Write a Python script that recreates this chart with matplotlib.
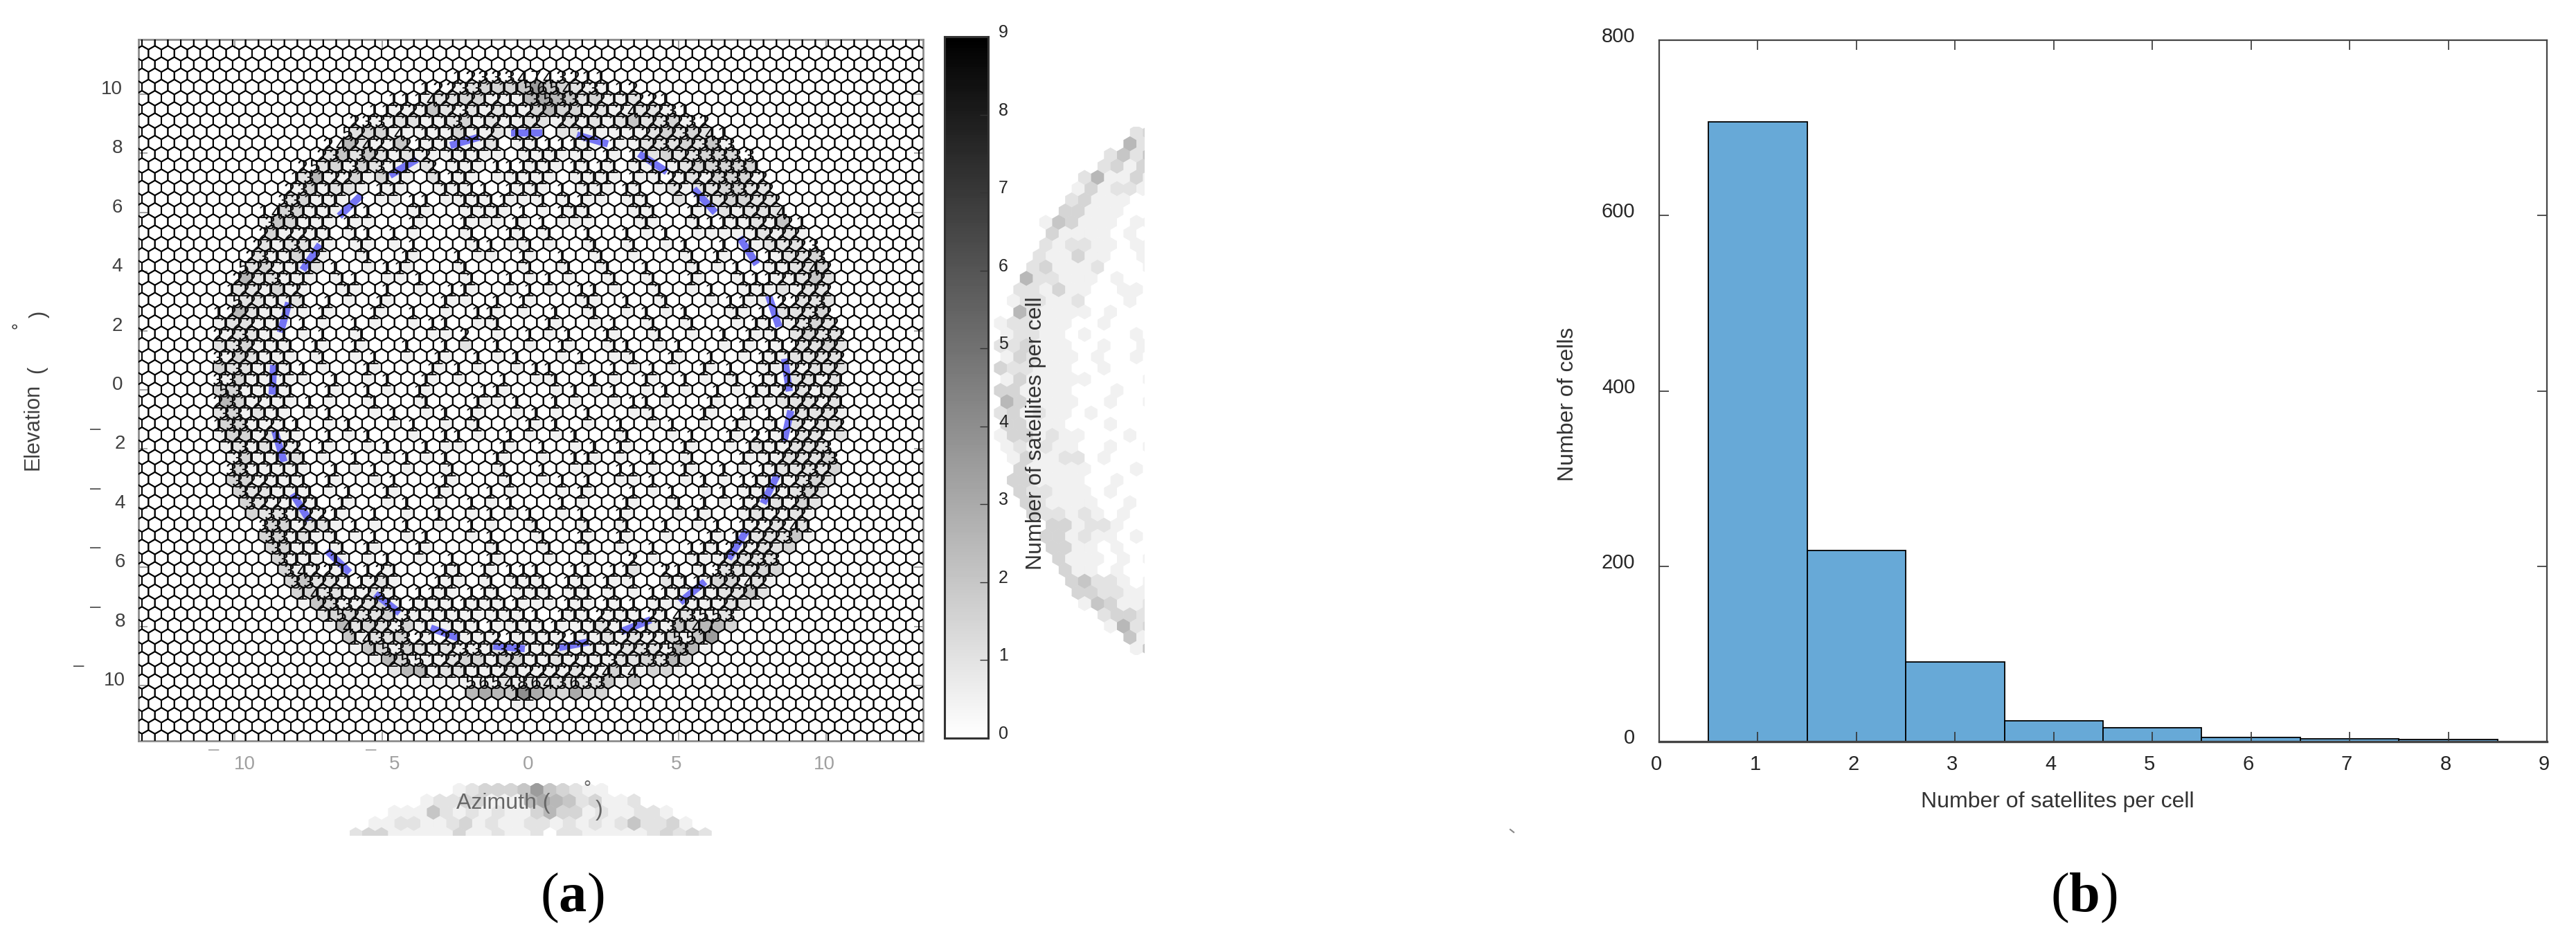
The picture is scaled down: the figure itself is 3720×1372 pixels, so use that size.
import numpy as np
import matplotlib
matplotlib.use("Agg")
from matplotlib import pyplot as plt
from matplotlib.collections import PolyCollection, LineCollection
from matplotlib.lines import Line2D
from matplotlib.transforms import ScaledTranslation

plt.rcParams['font.family'] = ['Liberation Sans', 'DejaVu Sans']
plt.rcParams['mathtext.fontset'] = 'custom'
plt.rcParams['mathtext.bf'] = 'Liberation Serif:bold'
plt.rcParams['mathtext.rm'] = 'Liberation Serif'

W, H = 3720, 1372

# satellites per cell, one string per hex row, top row first
row_level = list(range(27, -29, -1))
row_first = [-6, -8, -11, -12, -14, -14, -16, -16, -18, -18, -19, -19, -21, -20,
             -21, -21, -22, -22, -23, -23, -23, -24, -24, -24, -24, -24, -24, -24,
             -24, -24, -24, -24, -24, -23, -23, -23, -23, -22, -22, -20, -21, -20,
             -20, -19, -19, -18, -18, -16, -16, -14, -14, -12, -11, -8, -5, -1]
row_counts = [
    "123334743211",
    "12233111565423112",
    "1114212121135331211221",
    "1122112312112212121242231",
    "2331111131121120221111123232",
    "521140111112011000110112223241",
    "24242121111111011111101012322333",
    "2313211120111000111010101101233333",
    "251131311020110111110111101101213331",
    "1312210110011100011100111010121223322",
    "23111001100011110111010110110020123322",
    "331110000011001111001011000110001121222",
    "14311101100010001110100111000110010011214",
    "311110100001000100010100000001000111112121",
    "212211011010000010011010010010010000001222",
    "211311" "00100010000110010000100100010010" "101223",
    "231112" "000100100010000100100100000010100" "011223",
    "522111" "0100011000010000100100100100010010" "011242",
    "221311" "0011000010001001001000010010010001" "112122",
    "122112" "00010010000110000100011000010001001" "100222",
    "521111" "0100010000100010100001001001000011" "002223",
    "122111" "001000100100001100001001000100100010" "101232",
    "122110" "100010000011000100010000100100100001" "102322",
    "223111" "0010010000000200001001001000100001010" "102232",
    "132111" "010010001001000100001000110001000010" "112222",
    "322111" "0010001000010010010000100010010010001" "111222",
    "131111" "100001000010100000110000100100010100" "102212",
    "331111" "0001000100100000100010010001001000101" "112121",
    "531111" "001001000100001100000100100010001001" "122212",
    "231211" "0100001000100010010010000011000010010" "012221",
    "331110" "001000010001010000100010000100010010" "102122",
    "133121" "1000100001000010001010000100010000100" "102212",
    "121211" "00100100000110001000010001000010010" "211222",
    "131122" "01000010010000010010001010000100001" "112223",
    "311111" "00010001001000100000110000100100010" "122223",
    "331111" "00100100000100010010000011000100100" "111232",
    "322111" "0100001000100001000101000010001001" "111232",
    "321111" "001001000100010000001000100100010" "112132",
    "322121" "01000010000100100010000100010100" "121121",
    "331221" "001000010001001000100100000100" "011212",
    "331211" "0100010000100001000100100100010" "122241",
    "331101" "00100010000100010010010000001" "011223",
    "311101" "010001000001000100100001001" "112222",
    "311010" "001000010010000000000200001" "022233",
    "34221012100011010111001101100210133121",
    "3322112100011001011101101010011112242",
    "143112310111011101110110100111111221",
    "233223111111111100011011101021121",
    "15232131111101111011121112143553",
    "41223010111101111011212113147",
    "1431321211121111211112221551",
    "1531112331331121111223253",
    "25512211121111211311331",
    "11111121222222414",
    "56548643633",
    "11",
]

# blue ring dashes, start and end of each dash (degrees)
dash_az0 = [-2.71, -0.66, -4.75, -6.46, -7.70, -8.45, -8.68, -8.64, -8.03, -6.88, -5.24, -3.37, -1.26,
            0.96, 3.07, 5.06, 6.69, 7.86, 8.57, 8.75, 8.40, 7.65, 6.25, 4.61, 2.62]
dash_el0 = [8.26, 8.68, 7.25, 5.87, 4.05, 1.94, 0.84, -1.38, -3.51, -5.43, -6.90, -8.05, -8.66,
            -8.71, -8.17, -7.18, -5.71, -3.84, -1.73, -0.05, 2.13, 4.24, 5.99, 7.37, 8.31]
dash_az1 = [-1.73, 0.40, -3.84, -5.71, -7.11, -8.17, -8.73, -8.33, -7.47, -6.11, -4.42, -2.41, -0.19,
            1.97, 4.07, 5.90, 7.30, 8.35, 8.80, 8.59, 8.05, 7.07, 5.52, 3.67, 1.57]
dash_el1 = [8.54, 8.68, 7.79, 6.58, 4.91, 2.95, -0.16, -2.43, -4.42, -6.18, -7.54, -8.40, -8.75,
            -8.52, -7.77, -6.48, -4.77, -2.86, -0.70, 1.05, 3.18, 5.15, 6.79, 7.98, 8.61]

# histogram
hist_bins = [1, 2, 3, 4, 5, 6, 7, 8]
hist_cells = [707, 218, 91, 24, 16, 5, 3, 2]

az_ticks = [-10, -5, 0, 5, 10]
el_ticks = [-10, -8, -6, -4, -2, 0, 2, 4, 6, 8, 10]
cbar_ticks = list(range(0, 10))
hist_xticks = list(range(0, 10))
hist_yticks = [0, 200, 400, 600, 800]

px_deg = 42.73
pitch = 18.7 / px_deg
row_h = 16.2 / px_deg
x0_px, y0_px = 766.0, 563.0


def add_axes_px(left, top, right, bottom):
    return plt.gcf().add_axes([left / W, 1 - bottom / H, (right - left) / W, (bottom - top) / H])


def txt(x, y, s, **kw):
    kw.setdefault('ha', 'center')
    kw.setdefault('va', 'center')
    return plt.gcf().text(x / W, 1 - y / H, s, **kw)


def hexagon(cx, cy):
    ang = np.radians(np.arange(30, 390, 60))
    r = pitch / np.sqrt(3)
    return np.column_stack([cx + r * np.cos(ang), cy + r * np.sin(ang)])


def cell_x(col, level):
    return (col + 0.5 * (abs(level) % 2)) * pitch


def deg_lims(left, top, right, bottom):
    return ((left - x0_px) / px_deg, (right - x0_px) / px_deg,
            (y0_px - bottom) / px_deg, (y0_px - top) / px_deg)


fig = plt.figure(figsize=(W / 100, H / 100), dpi=100, facecolor='white')

polys, shades, digits = [], [], []
for lev, first, counts in zip(row_level, row_first, row_counts):
    for i, ch in enumerate(counts):
        if ch == '0':
            continue
        cx, cy = cell_x(first + i, lev), lev * row_h
        polys.append(hexagon(cx, cy))
        shades.append(1 - int(ch) / 9)
        digits.append((cx, cy, ch))
face = [(0, 0, 0, 0.5 * (1 - s)) for s in shades]

# panel a
ax = add_axes_px(200, 57, 1333, 1070)
lims = deg_lims(200, 57, 1333, 1070)
ax.set_xlim(lims[0], lims[1])
ax.set_ylim(lims[2], lims[3])
ax.add_collection(PolyCollection(polys, facecolors=face, edgecolors='none', zorder=1))
segs = [[(a0, e0), (a1, e1)] for a0, e0, a1, e1 in zip(dash_az0, dash_el0, dash_az1, dash_el1)]
ax.add_collection(LineCollection(segs, colors='#7474f4', linewidths=7.5, capstyle='butt', zorder=2))
grid = []
for lev in range(-33, 34):
    for col in range(-33, 34):
        grid.append(hexagon(cell_x(col, lev), lev * row_h))
ax.add_collection(PolyCollection(grid, facecolors='none', edgecolors='black', linewidths=1.4, zorder=3))
for cx, cy, ch in digits:
    ax.text(cx - 2.3 / px_deg, cy + 5 / px_deg, ch, fontsize=20.5, color='#111111', ha='center',
            va='baseline', zorder=4, clip_on=True)
ax.set_xticks(az_ticks)
ax.set_yticks(el_ticks)
ax.tick_params(direction='in', length=9.4, width=1.4, color='#a0a0a0', top=True, right=True,
               labelbottom=False, labelleft=False)
for sp in ax.spines.values():
    sp.set_color('#8c8c8c')
    sp.set_linewidth(2)

# stray copies of the shaded cells
ax_r = add_axes_px(1420, 183, 1653, 946)
lims = deg_lims(1420 - 1127.5, 182, 1653 - 1127.5, 945)
ax_r.set_xlim(lims[0], lims[1])
ax_r.set_ylim(lims[2], lims[3])
ax_r.add_collection(PolyCollection(polys, facecolors=face, edgecolors='none'))
ax_r.axis('off')
ax_r.patch.set_alpha(0)

ax_b = add_axes_px(505, 1131, 1029, 1207)
lims = deg_lims(505, 1131 - 1015, 1029, 1207 - 1015)
ax_b.set_xlim(lims[0], lims[1])
ax_b.set_ylim(lims[2], lims[3])
ax_b.add_collection(PolyCollection(polys, facecolors=face, edgecolors='none'))
ax_b.axis('off')
ax_b.patch.set_alpha(0)

# tick labels of panel a, minus signs sit apart from the digits
for v in el_ticks:
    y = y0_px - v * px_deg - 7
    label = str(abs(v))
    if v < 0:
        txt(181, y, label, fontsize=20, color='#404040', ha='right')
        txt(138 if v > -10 else 114, y - 21, '\u2013', fontsize=20, color='#555555')
    else:
        txt(177, y, label, fontsize=20, color='#404040', ha='right')
az_label_x = [353, 570, 763, 977, 1190]
az_minus_x = [309, 536, None, None, None]
for v, x, mx in zip(az_ticks, az_label_x, az_minus_x):
    txt(x, 1104, str(abs(v)), fontsize=20, color='#a0a0a0')
    if mx is not None:
        txt(mx, 1083, '\u2013', fontsize=20, color='#a8a8a8')
txt(727, 1160, 'Azimuth (', fontsize=23, color='#666666')
txt(848, 1140, '\u00b0', fontsize=20, color='#666666')
txt(865, 1170, ')', fontsize=23, color='#666666')
txt(47, 616, 'Elevation', fontsize=22, color='#404040', rotation=90)
txt(53, 534, '(', fontsize=22, color='#404040', rotation=90)
txt(29, 470, '\u00b0', fontsize=18, color='#404040', rotation=90)
txt(57, 454, ')', fontsize=22, color='#404040', rotation=90)
txt(826, 1297, r'($\mathbf{a}$)', fontsize=58, family='Liberation Serif', color='black')

# colorbar
cax = add_axes_px(1364, 53, 1427, 1066)
grad = np.linspace(9, 0, 256).reshape(-1, 1)
cax.imshow(grad, cmap='gray_r', vmin=0, vmax=9, aspect='auto', extent=[0, 1, 0, 9])
cax.set_xticks([])
cax.set_yticks(cbar_ticks)
cax.yaxis.tick_right()
cax.tick_params(direction='in', length=8.5, width=1, color='#333333', labelright=False)
for sp in cax.spines.values():
    sp.set_color('#333333')
    sp.set_linewidth(2.2)
for v in cbar_ticks:
    txt(1449, 1066 - v * 1013 / 9 - 6, str(v), fontsize=18, color='#262626')
txt(1496, 626, 'Number of satellites per cell', fontsize=23, color='#333333', rotation=90)

# panel b
ax2 = add_axes_px(2396, 58, 3678, 1071)
ax2.bar(hist_bins, hist_cells, width=1.0, color='#67a9d7', edgecolor='black', linewidth=1.3)
ax2.set_xlim(0, 9)
ax2.set_ylim(0, 800)
ax2.set_xticks(hist_xticks)
ax2.set_yticks(hist_yticks)
ax2.tick_params(direction='in', length=10, width=1.2, color='#333333', top=True, right=True,
                labelsize=21, labelcolor='#262626')
ax2.tick_params(axis='x', pad=14)
ax2.tick_params(axis='y', pad=25)
for lab in ax2.get_xticklabels():
    lab.set_transform(lab.get_transform() + ScaledTranslation(-4 / 100, 0, fig.dpi_scale_trans))
for lab in ax2.get_yticklabels():
    lab.set_transform(lab.get_transform() + ScaledTranslation(0, 8 / 100, fig.dpi_scale_trans))
for sp in ax2.spines.values():
    sp.set_color('#444444')
    sp.set_linewidth(1.6)
ax2.spines['bottom'].set_linewidth(2.4)
txt(2971, 1158, 'Number of satellites per cell', fontsize=23, color='#333333')
txt(2264, 584, 'Number of cells', fontsize=23, color='#333333', rotation=90)
txt(3009, 1297, r'($\mathbf{b}$)', fontsize=58, family='Liberation Serif', color='black')

# small speck left over in the page
fig.add_artist(Line2D([2181 / W, 2186 / W], [1 - 1198 / H, 1 - 1202 / H], color='#888888', lw=1.5))

fig.savefig('out.png', dpi=100, facecolor='white')
